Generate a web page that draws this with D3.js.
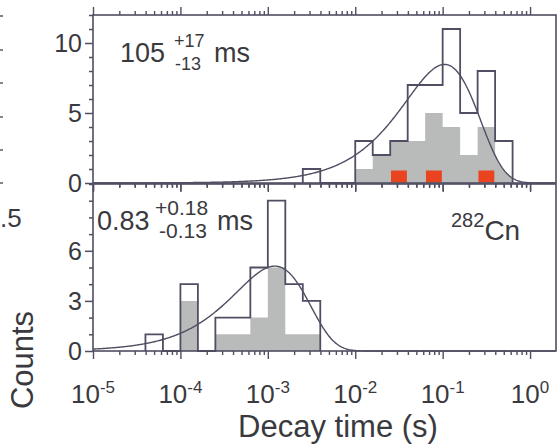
<!DOCTYPE html>
<html>
<head>
<meta charset="utf-8">
<script src="https://cdn.jsdelivr.net/npm/d3@7"></script>
<style>
  body { margin: 0; background: #fff; }
  svg { display: block; }
  text { font-family: "Liberation Sans", Arial, Helvetica, sans-serif; fill: #3a3a3e; }
</style>
</head>
<body>
<svg id="chart" width="557" height="444"></svg>
<script>
// Histogram bins: lower edge of each bin, log10(t / s); every bin is 0.2 decades wide
const binWidth = 0.2;

// Upper panel
const topBinStart = [-2.6, -2.4, -2.2, -2.0, -1.8, -1.6, -1.4, -1.2, -1.0, -0.8, -0.6, -0.4];
const topAll      = [1, 0, 0, 3, 2, 3, 7, 7, 11, 5, 8, 3];
const topShaded   = [0, 0, 0, 1, 2, 3, 3, 5, 4, 2, 4, 3];
const topMarked   = [0, 0, 0, 0, 0, 1, 0, 1, 0, 0, 1, 0];

// Lower panel
const botBinStart = [-4.4, -4.2, -4.0, -3.8, -3.6, -3.4, -3.2, -3.0, -2.8, -2.6];
const botAll      = [1, 0, 4, 0, 2, 2, 5, 9, 4, 3];
const botShaded   = [0, 0, 3, 0, 1, 1, 2, 5, 1, 1];

// Fitted lifetimes (s) used for the decay curves
const fitTau = [0.105, 0.0012];

// Tick labels
const xTickExps = [-5, -4, -3, -2, -1, 0];
const topYTicks = [0, 5, 10];
const botYTicks = [0, 3, 6];

const ink = "#4f4e62";
const greyFill = "#b9bbbb";
const red = "#e9431f";

const svg = d3.select("#chart");

const x = d3.scaleLog().domain([1e-5, 1.98]).range([93, 556]);
const yTop = d3.scaleLinear().domain([0, 12]).range([183, 15]);
const yBot = d3.scaleLinear().domain([0, 10]).range([351, 184]);

// step outline points for a histogram
function stepPoints(starts, counts) {
  const pts = [[starts[0], 0]];
  starts.forEach((s, i) => {
    pts.push([s, counts[i]]);
    pts.push([s + binWidth, counts[i]]);
  });
  pts.push([starts[starts.length - 1] + binWidth, 0]);
  return pts;
}

// decay-time density per bin, N * w * ln10 * (t/tau) * exp(-t/tau)
function fitCurve(total, tau) {
  const lo = Math.log10(x.domain()[0]), hi = Math.log10(x.domain()[1]);
  const pts = [];
  for (let u = lo; u <= hi + 1e-9; u += 0.01) {
    const s = Math.pow(10, u) / tau;
    pts.push([u, total * binWidth * Math.LN10 * s * Math.exp(-s)]);
  }
  return pts;
}

function drawPanel(cfg) {
  const y = cfg.y;
  const g = svg.append("g");
  const line = d3.line().x(d => x(Math.pow(10, d[0]))).y(d => y(d[1]));
  const total = d3.sum(cfg.all);
  const curve = fitCurve(total, cfg.tau);

  // shaded sub-histogram
  let grey = g.append("path")
    .attr("d", line(stepPoints(cfg.starts, cfg.shaded)) + "Z")
    .attr("fill", greyFill)
    .attr("stroke", "none");

  if (cfg.clipFrom !== undefined) {
    const id = "clip-" + cfg.name;
    const cp = svg.append("defs").append("clipPath").attr("id", id);
    const xc = x(Math.pow(10, cfg.clipFrom));
    cp.append("rect").attr("x", 0).attr("y", 0).attr("width", xc).attr("height", 444);
    const under = curve.filter(d => d[0] >= cfg.clipFrom - 0.01);
    cp.append("path").attr("d", line(under) + `L${x.range()[1]},${y(0)}L${xc},${y(0)}Z`);
    grey.attr("clip-path", `url(#${id})`);
  }

  // marked events
  if (cfg.marked) {
    g.selectAll("rect.mark")
      .data(cfg.starts.map((s, i) => ({ s, c: cfg.marked[i] })).filter(d => d.c > 0))
      .join("rect")
      .attr("class", "mark")
      .attr("x", d => x(Math.pow(10, d.s)) + 0.8)
      .attr("width", d => x(Math.pow(10, d.s + binWidth)) - x(Math.pow(10, d.s)) - 1.6)
      .attr("y", d => y(d.c) + 1.5)
      .attr("height", d => y(0) - y(d.c) - 2)
      .attr("fill", red);
  }

  // all events
  g.append("path")
    .attr("d", line(stepPoints(cfg.starts, cfg.all)))
    .attr("fill", "none")
    .attr("stroke", ink)
    .attr("stroke-width", 1.8)
    .attr("stroke-linejoin", "miter");

  // fit curve
  g.append("path")
    .attr("d", line(curve))
    .attr("fill", "none")
    .attr("stroke", ink)
    .attr("stroke-width", 1.4);

  // frame
  g.append("rect")
    .attr("x", x.range()[0]).attr("y", y.range()[1])
    .attr("width", x.range()[1] - x.range()[0])
    .attr("height", y.range()[0] - y.range()[1])
    .attr("fill", "none").attr("stroke", ink).attr("stroke-width", 1.6);

  // y axis ticks
  const yMax = y.domain()[1];
  const minorY = d3.range(0, Math.floor(yMax) + 1).filter(v => !cfg.yTicks.includes(v));
  const yaxisG = g.append("g").attr("transform", `translate(${x.range()[0]},0)`);
  yaxisG.append("g").call(d3.axisLeft(y).tickValues(cfg.yTicks).tickSize(8).tickFormat(""));
  yaxisG.append("g").call(d3.axisLeft(y).tickValues(minorY).tickSize(4).tickFormat(""));
  yaxisG.selectAll(".domain").remove();
  yaxisG.selectAll("line").attr("stroke", ink).attr("stroke-width", 1.5);

  g.selectAll("text.ytick")
    .data(cfg.yTicks)
    .join("text")
    .attr("class", "ytick")
    .attr("x", 82)
    .attr("y", d => y(d) + 9)
    .attr("text-anchor", "end")
    .attr("font-size", 25)
    .text(d => d);
}

// x ticks along a horizontal edge
const majorX = xTickExps.map(e => Math.pow(10, e));
const minorX = [];
xTickExps.forEach(e => {
  for (let m = 2; m <= 9; m++) {
    const v = m * Math.pow(10, e);
    if (v <= x.domain()[1]) minorX.push(v);
  }
});

function xTicks(yPos, dir) {
  const g = svg.append("g").attr("transform", `translate(0,${yPos})`);
  const mk = dir < 0 ? d3.axisTop : d3.axisBottom;
  g.append("g").call(mk(x).tickValues(majorX).tickSize(8).tickFormat(""));
  g.append("g").call(mk(x).tickValues(minorX).tickSize(4).tickFormat(""));
  g.selectAll(".domain").remove();
  g.selectAll("line").attr("stroke", ink).attr("stroke-width", 1.4);
}

drawPanel({
  name: "top", y: yTop, starts: topBinStart, all: topAll, shaded: topShaded,
  marked: topMarked, tau: fitTau[0], yTicks: topYTicks, clipFrom: -0.4
});
drawPanel({
  name: "bot", y: yBot, starts: botBinStart, all: botAll, shaded: botShaded,
  tau: fitTau[1], yTicks: botYTicks
});

xTicks(yTop.range()[1], -1);
xTicks(yTop.range()[0], 1);
xTicks(yBot.range()[1], 1);
xTicks(yBot.range()[0], 1);

// x tick labels with exponents
svg.selectAll("text.xtick")
  .data(xTickExps)
  .join("text")
  .attr("class", "xtick")
  .attr("x", d => x(Math.pow(10, d)))
  .attr("y", 403)
  .attr("text-anchor", "middle")
  .each(function (d) {
    const t = d3.select(this);
    t.append("tspan").attr("font-size", 26).text("10");
    t.append("tspan").attr("font-size", 17).attr("dy", -10).text(d);
  });

// axis titles
svg.append("text")
  .attr("x", 338).attr("y", 437)
  .attr("text-anchor", "middle")
  .attr("font-size", 31)
  .text("Decay time (s)");

svg.append("text")
  .attr("transform", "translate(33,360) rotate(-90)")
  .attr("text-anchor", "middle")
  .attr("font-size", 31)
  .text("Counts");

// half-life annotations
function halfLife(xp, yb, value, plus, minus, supX, subX, unitX, big, small) {
  const g = svg.append("g");
  g.append("text").attr("x", xp).attr("y", yb).attr("font-size", big).text(value);
  g.append("text").attr("x", supX).attr("y", yb - 15).attr("font-size", small).text(plus);
  g.append("text").attr("x", subX).attr("y", yb + 8).attr("font-size", small).text(minus);
  g.append("text").attr("x", unitX).attr("y", yb).attr("font-size", big).text("ms");
}
halfLife(120, 62, "105", "+17", "-13", 174, 175, 214, 27, 18);
halfLife(97, 230, "0.83", "+0.18", "-0.13", 155, 159, 217, 27, 21);

// nuclide label
const nuc = svg.append("text").attr("x", 451).attr("y", 240);
nuc.append("tspan").attr("font-size", 20).attr("dy", -13).text("282");
nuc.append("tspan").attr("font-size", 28).attr("dy", 13).text("Cn");

// edge of the neighbouring panel
const edgeTicks = [16, 50, 83, 117, 150, 183];
svg.selectAll("line.edge")
  .data(edgeTicks)
  .join("line")
  .attr("class", "edge")
  .attr("x1", 0).attr("x2", 3)
  .attr("y1", d => d).attr("y2", d => d)
  .attr("stroke", ink).attr("stroke-width", 1.4);
svg.append("text").attr("x", 0).attr("y", 227).attr("font-size", 26).text(".5");
</script>
</body>
</html>
